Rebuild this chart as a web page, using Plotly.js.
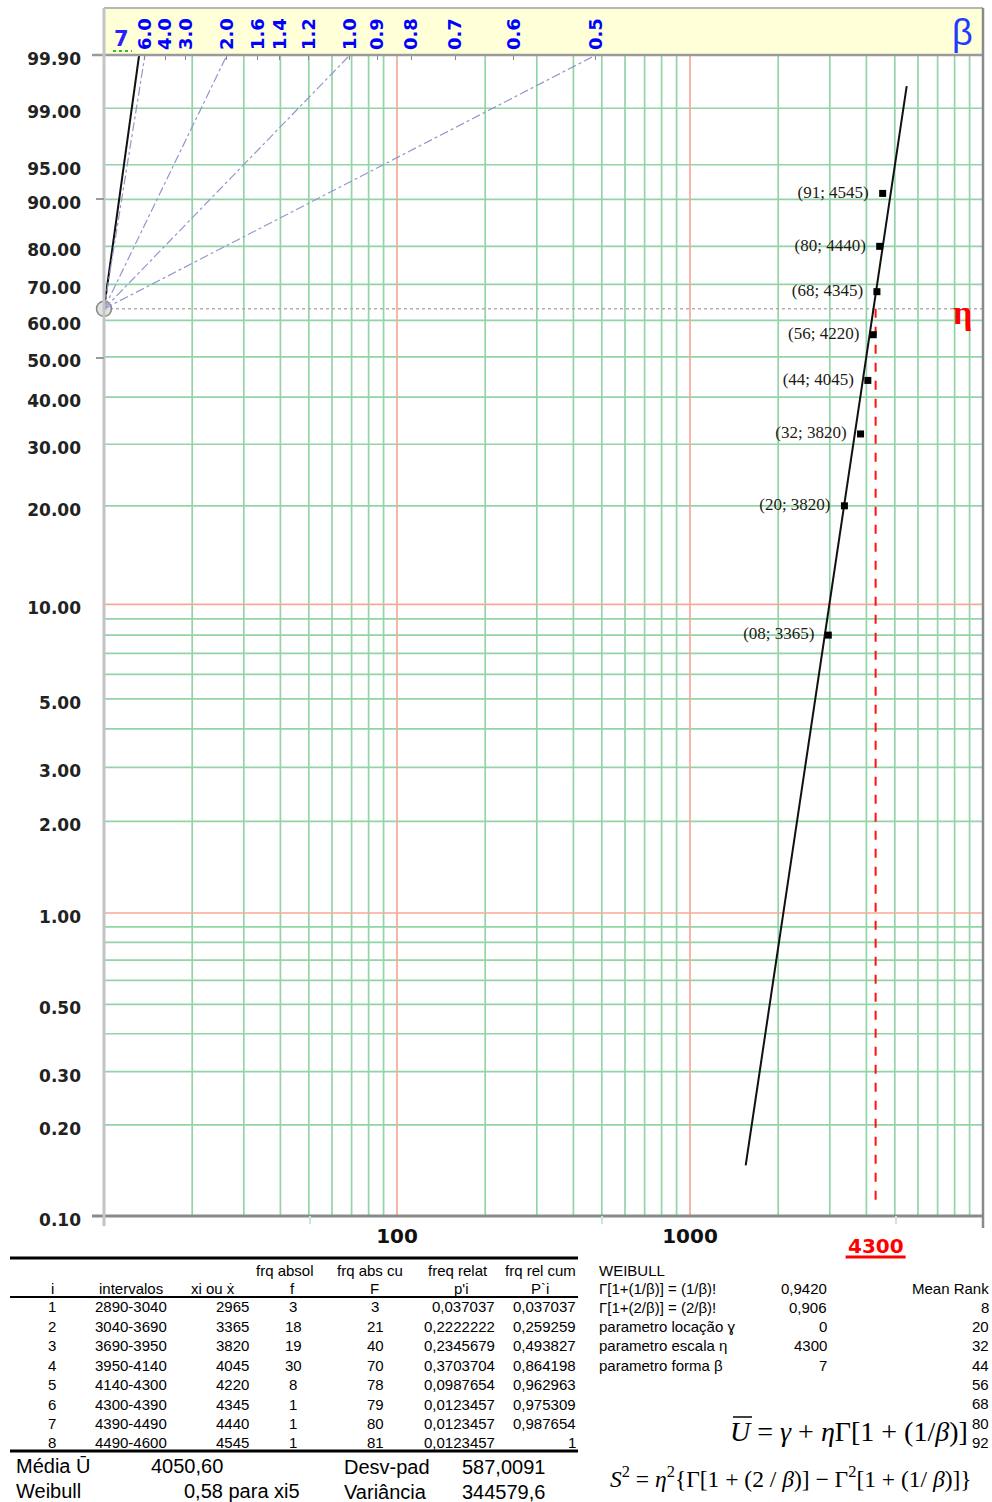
<!DOCTYPE html>
<html><head><meta charset="utf-8">
<script src="https://cdn.plot.ly/plotly-3.0.1.min.js"></script>
<style>html,body{margin:0;padding:0;background:#fff;overflow:hidden}</style>
</head><body><div id="chart" style="width:992px;height:1502px"></div>
<script>
// ---------------- data ----------------
const yTickPercent = [99.9, 99, 95, 90, 80, 70, 60, 50, 40, 30, 20, 10, 5, 3, 2, 1, 0.5, 0.3, 0.2, 0.1];
const yTickLabels = ['99.90','99.00','95.00','90.00','80.00','70.00','60.00','50.00','40.00','30.00','20.00','10.00','5.00','3.00','2.00','1.00','0.50','0.30','0.20','0.10'];
const xTickVals = [100, 1000];
const xTickLabels = ['100', '1000'];
const xGridGreen = [20,30,40,50,60,70,80,90,200,300,400,500,600,700,800,900,2000,3000,4000,5000,6000,7000,8000,9000];
const xGridRed = [100, 1000];
const yGridGreen = [99,95,90,80,70,60,50,40,30,20,9,8,7,6,5,4,3,2,0.9,0.8,0.7,0.6,0.5,0.4,0.3,0.2];
const yGridRed = [10, 1];
const betaScale = [6.0,4.0,3.0,2.0,1.6,1.4,1.2,1.0,0.9,0.8,0.7,0.6,0.5];
const betaLabels = ['6.0','4.0','3.0','2.0','1.6','1.4','1.2','1.0','0.9','0.8','0.7','0.6','0.5'];
const betaRays = [6.0, 2.0, 1.0, 0.5];
const pointX = [2965, 3365, 3820, 4045, 4220, 4345, 4440, 4545];
const pointF = [8, 20, 32, 44, 56, 68, 80, 91];
const pointLabels = ['(08; 3365)','(20; 3820)','(32; 3820)','(44; 4045)','(56; 4220)','(68; 4345)','(80; 4440)','(91; 4545)'];
const fitX = [1549, 5490];
const fitF = [0.147, 99.57];
const eta = 4300, etaF = 63.2, etaLineBottomF = 0.112;
const betaFit = 7, pivotX = 10;

// table
const headTop = ['frq absol','frq abs cu','freq relat','frq rel cum'];
const headCols = ['i','intervalos','xi ou ẋ','f','F',"p'i",'P`i'];
const rowI = [1,2,3,4,5,6,7,8];
const intervalos = ['2890-3040','3040-3690','3690-3950','3950-4140','4140-4300','4300-4390','4390-4490','4490-4600'];
const xi = [2965,3365,3820,4045,4220,4345,4440,4545];
const fAbs = [3,18,19,30,8,1,1,1];
const FCum = [3,21,40,70,78,79,80,81];
const pRel = ['0,037037','0,2222222','0,2345679','0,3703704','0,0987654','0,0123457','0,0123457','0,0123457'];
const PCum = ['0,037037','0,259259','0,493827','0,864198','0,962963','0,975309','0,987654','1'];
const weibLabels = ['Γ[1+(1/β)] = (1/β)!','Γ[1+(2/β)] = (2/β)!','parametro locação ɣ','parametro escala η','parametro forma β'];
const weibValues = ['0,9420','0,906','0','4300','7'];
const meanRank = [8,20,32,44,56,68,80,92];

// ---------------- helpers ----------------
const L=104, R=983, T=55, B=1216;
const px = X => (X-L)/(R-L);
const py = Y => (B-Y)/(B-T);
const wb = p => Math.log(-Math.log(1 - p/100));
const yMin = wb(0.1), yMax = wb(99.9);
function vlines(vals){const x=[],y=[];vals.forEach(v=>{x.push(v,v,null);y.push(yMin,yMax,null);});return {x,y};}
function hlines(vals){const x=[],y=[];vals.forEach(v=>{x.push(10,10000,null);y.push(wb(v),wb(v),null);});return {x,y};}
const GREEN='rgb(146,212,166)', SALMON='rgb(246,170,150)';

const traces = [];
const vg=vlines(xGridGreen), hg=hlines(yGridGreen), vr=vlines(xGridRed), hr=hlines(yGridRed);
traces.push({x:vg.x,y:vg.y,mode:'lines',line:{color:GREEN,width:1.7},hoverinfo:'skip'});
traces.push({x:hg.x,y:hg.y,mode:'lines',line:{color:GREEN,width:1.7},hoverinfo:'skip'});
traces.push({x:vr.x,y:vr.y,mode:'lines',line:{color:SALMON,width:1.7},hoverinfo:'skip'});
traces.push({x:hr.x,y:hr.y,mode:'lines',line:{color:SALMON,width:1.7},hoverinfo:'skip'});
// eta horizontal dotted
traces.push({x:[pivotX,10000],y:[wb(etaF),wb(etaF)],mode:'lines',line:{color:'#b0b0b0',width:1.5,dash:'dot'},hoverinfo:'skip'});
// beta rays (on top axis)
const rx=[],ry=[];
betaRays.forEach(b=>{rx.push(pivotX, pivotX*Math.exp((yMax-wb(etaF))/b), null); ry.push(wb(etaF), yMax, null);});
traces.push({x:rx,y:ry,xaxis:'x2',mode:'lines',line:{color:'rgb(150,150,205)',width:1.2,dash:'dashdot'},hoverinfo:'skip'});
// beta=7 reference line
traces.push({x:[pivotX, pivotX*Math.exp((yMax-wb(etaF))/betaFit)],y:[wb(etaF),yMax],mode:'lines',line:{color:'#111',width:2},hoverinfo:'skip'});
// red dashed eta line
traces.push({x:[eta,eta],y:[wb(etaF),wb(etaLineBottomF)],mode:'lines',line:{color:'#ff1010',width:2,dash:'dash'},hoverinfo:'skip'});
// fit line
traces.push({x:fitX,y:fitF.map(wb),mode:'lines',line:{color:'#111',width:2},hoverinfo:'skip'});
// pivot
traces.push({x:[pivotX],y:[wb(etaF)],mode:'markers',cliponaxis:false,marker:{symbol:'circle',size:15,color:'rgba(190,190,190,0.45)',line:{color:'#888',width:1.5}},hoverinfo:'skip'});
// data points
traces.push({x:pointX,y:pointF.map(wb),mode:'markers+text',text:pointLabels.map(s=>s+'\u00a0\u00a0'),textposition:'middle left',cliponaxis:false,
  textfont:{family:'Liberation Serif, Times New Roman, serif',size:17,color:'#1e1a14'},
  marker:{symbol:'square',size:7,color:'#000'},hoverinfo:'skip'});

// ---------------- annotations ----------------
const ann=[];
function txt(X,Y,text,o={}){
  ann.push({xref:'paper',yref:'paper',x:px(X),y:py(Y),text:text,showarrow:false,
    xanchor:o.anchor||'center',yanchor:'middle',borderpad:0,
    font:{family:o.family||'Liberation Sans, Arial, sans-serif',size:o.size||15,color:o.color||'#000',weight:o.weight||'normal'}});
}
// chart labels
txt(121,39,'7',{family:'DejaVu Sans',size:21,color:'#2a20ff',weight:'bold'});
txt(962,33,'β',{size:36,color:'#1c3cff'});
txt(962,312,'η',{family:'Liberation Serif, serif',size:34,color:'#ff0000',weight:'bold'});
ann.push({xref:'x',yref:'paper',x:Math.log10(eta),y:py(1246),text:'4300',showarrow:false,xanchor:'center',yanchor:'middle',
  font:{family:'DejaVu Sans',size:20,color:'#ff0000',weight:'bold'}});

// table headers
const topX=[285,370,458,540];
headTop.forEach((h,k)=>txt(topX[k],1270,h));
const colX=[52,131,213,292,374,461,540];
headCols.forEach((h,k)=>txt(colX[k],1288,h));
const rowY = k => 1306.7 + k*19.47;
rowI.forEach((v,k)=>{
  const y=rowY(k);
  txt(52,y,String(v));
  txt(131,y,intervalos[k]);
  txt(250,y,String(xi[k]),{anchor:'right'});
  txt(293,y,String(fAbs[k]));
  txt(375,y,String(FCum[k]));
  txt(496,y,pRel[k],{anchor:'right'});
  txt(577,y,PCum[k],{anchor:'right'});
});
txt(15,1466,'Média Ū',{anchor:'left',size:20});
txt(150,1466,'4050,60',{anchor:'left',size:20});
txt(343,1467,'Desv-pad',{anchor:'left',size:20});
txt(461,1467,'587,0091',{anchor:'left',size:20});
txt(15,1491,'Weibull',{anchor:'left',size:20});
txt(183,1491,'0,58 para xi5',{anchor:'left',size:20});
txt(343,1492,'Variância',{anchor:'left',size:20});
txt(461,1492,'344579,6',{anchor:'left',size:20});
// WEIBULL block
txt(598,1270,'WEIBULL',{anchor:'left'});
weibLabels.forEach((s,k)=>{
  const y=1288+k*19.3;
  txt(598,y,s,{anchor:'left'});
  txt(828,y,weibValues[k],{anchor:'right'});
});
txt(990,1288,'Mean Rank',{anchor:'right'});
meanRank.forEach((v,k)=>txt(990,1307+k*19.4,String(v),{anchor:'right'}));
// formulas
txt(849,1432,'<i>U</i> = <i>γ</i> + <i>η</i>Γ[1 + (1/<i>β</i>)]',{family:'Liberation Serif, serif',size:28});
txt(791,1477,'<i>S</i><sup>2</sup> = <i>η</i><sup>2</sup>{Γ[1 + (2 / <i>β</i>)] − Γ<sup>2</sup>[1 + (1/ <i>β</i>)]}',{family:'Liberation Serif, serif',size:23.5});

// ---------------- shapes ----------------
const shp=[];
function seg(X0,Y0,X1,Y1,color,width,dash){shp.push({type:'line',xref:'paper',yref:'paper',x0:px(X0),y0:py(Y0),x1:px(X1),y1:py(Y1),line:{color:color,width:width,dash:dash||'solid'}});}
// yellow beta band
shp.push({type:'rect',xref:'paper',yref:'paper',x0:px(104),x1:px(983),y0:py(55),y1:py(8),fillcolor:'#ffffd8',line:{width:0},layer:'below'});
seg(104,8,983,8,'#b5b5b5',2);
seg(92,55,983,55,'#9a9a9a',2.5);
seg(92,1216,983,1216,'#8a8a8a',3);
seg(104,8,104,1226,'#c4c4c4',3);
seg(983,8,983,1228,'#8a8a8a',2.5);
// small ticks
seg(96,199,104,199,'#9a9a9a',2); seg(96,358,104,358,'#9a9a9a',2);
[310,602,896].forEach(X=>seg(X,1216,X,1224,'#c8e8d2',2));
// underline for 4300 and 7
const c4300 = (Math.log10(eta)-1)/3*(R-L)+L;
seg(c4300-30,1257,c4300+30,1257,'#ff0000',3);
seg(113,51,132,51,'#33bb33',2,'dot');
// overline on U
seg(733,1417,752,1417,'#000',1.5);
// table lines
seg(10,1258,578,1258,'#000',3);
seg(10,1297,578,1297,'#000',2);
seg(10,1451,578,1451,'#000',3);

const layout={
  width:992,height:1502,margin:{l:104,r:9,t:55,b:286},paper_bgcolor:'#fff',plot_bgcolor:'#fff',showlegend:false,
  xaxis:{type:'log',range:[1,4],tickvals:xTickVals,ticktext:xTickLabels,showgrid:false,zeroline:false,showline:false,ticks:'',
    tickfont:{family:'DejaVu Sans',size:20,color:'#111',weight:'bold'},ticklabelstandoff:6},
  xaxis2:{type:'log',range:[1,4],overlaying:'x',side:'top',anchor:'y',
    tickvals:betaScale.map(b=>pivotX*Math.exp((yMax-wb(etaF))/b)),ticktext:betaLabels,tickangle:-90,
    ticks:'inside',ticklen:5,tickcolor:'#888',showgrid:false,showline:false,zeroline:false,
    tickfont:{family:'DejaVu Sans',size:18,color:'#0000ff',weight:'bold'},ticklabelstandoff:4},
  yaxis:{range:[yMin,yMax],tickvals:yTickPercent.map(wb),ticktext:yTickLabels,showgrid:false,zeroline:false,showline:false,ticks:'',
    tickfont:{family:'DejaVu Sans',size:17,color:'#222',weight:'bold'},ticklabelstandoff:22,ticklabelshift:4},
  annotations:ann,shapes:shp
};
Plotly.newPlot('chart',traces,layout,{staticPlot:true,displayModeBar:false});
</script></body></html>
